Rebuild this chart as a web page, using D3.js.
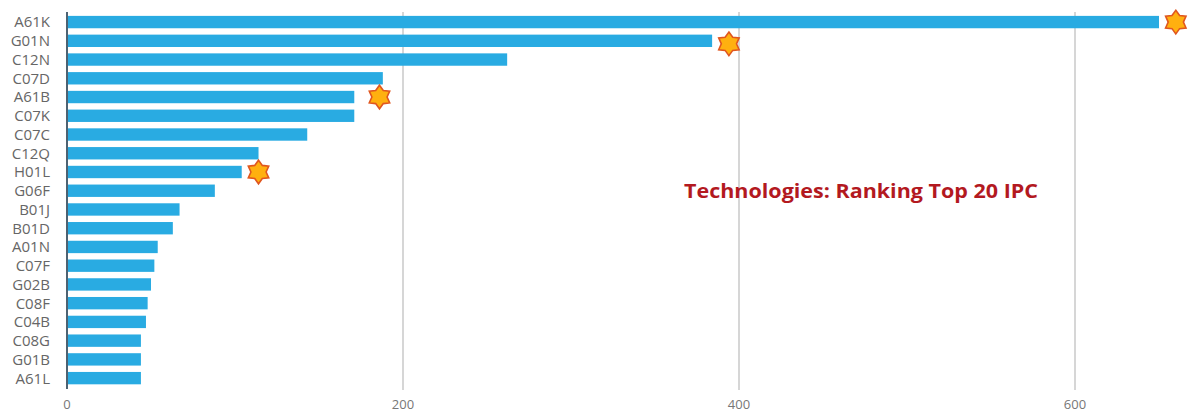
<!DOCTYPE html>
<html>
<head>
<meta charset="utf-8">
<script src="https://cdn.jsdelivr.net/npm/d3@7/dist/d3.min.js"></script>
<style>
  html, body { margin: 0; padding: 0; background: #fff; }
  svg { display: block; }
</style>
</head>
<body>
<svg id="chart" width="1195" height="412"></svg>
<script>
// IPC classes ranked by number of patents
const categories = ["A61K","G01N","C12N","C07D","A61B","C07K","C07C","C12Q","H01L","G06F",
                    "B01J","B01D","A01N","C07F","G02B","C08F","C04B","C08G","G01B","A61L"];
const counts = [650,384,262,188,171,171,143,114,104,88,67,63,54,52,50,48,47,44,44,44];
const xTicks = [0,200,400,600];

// Highlighted classes and the value each star sits at
const starCategories = ["A61K","G01N","A61B","H01L"];
const starValues = [660,394,186,114];

const titleText = "Technologies: Ranking Top 20 IPC";

const svg = d3.select("#chart");
const x = d3.scaleLinear().domain([0,600]).range([67,1075]);
const y = d3.scaleBand().domain(categories).range([12.7,387.5]).paddingInner(0.34).paddingOuter(0.17);

// Vertical grid
svg.append("g").selectAll("line")
  .data(xTicks.filter(d => d > 0))
  .join("line")
  .attr("x1", d => x(d)).attr("x2", d => x(d))
  .attr("y1", 12).attr("y2", 390)
  .attr("stroke", "#d6d6d6").attr("stroke-width", 2);

// Bars
svg.append("g").selectAll("rect")
  .data(categories)
  .join("rect")
  .attr("x", x(0))
  .attr("y", d => y(d))
  .attr("width", (d,i) => x(counts[i]) - x(0))
  .attr("height", y.bandwidth())
  .attr("fill", "#29abe2");

// Baseline
svg.append("line")
  .attr("x1", x(0)).attr("x2", x(0))
  .attr("y1", 12).attr("y2", 389)
  .attr("stroke", "#4d6272").attr("stroke-width", 2);

// Category labels
svg.append("g").selectAll("text")
  .data(categories)
  .join("text")
  .attr("x", 50)
  .attr("y", d => y(d) + y.bandwidth()/2)
  .attr("dy", "0.36em")
  .attr("text-anchor", "end")
  .attr("font-family", "'Open Sans', sans-serif")
  .attr("font-size", 15)
  .attr("fill", "#666")
  .text(d => d);

// Value axis labels
svg.append("g").selectAll("text")
  .data(xTicks)
  .join("text")
  .attr("x", d => x(d))
  .attr("y", 409)
  .attr("text-anchor", "middle")
  .attr("font-family", "'Open Sans', sans-serif")
  .attr("font-size", 13)
  .attr("fill", "#777")
  .text(d => d);

// Six-pointed star path, alternating outer and inner radius
const starPath = d3.lineRadial().curve(d3.curveLinearClosed)(
  d3.range(12).map(i => [i * Math.PI / 6, i % 2 ? 7.6 : 11.8])
);

svg.append("g").selectAll("path")
  .data(starCategories)
  .join("path")
  .attr("d", starPath)
  .attr("transform", (d,i) => {
    const cy = y(d) + y.bandwidth()/2 + (d === "G01N" ? 3 : 0);
    return `translate(${x(starValues[i])},${cy})`;
  })
  .attr("fill", "#ffb00f")
  .attr("stroke", "#e0561f")
  .attr("stroke-width", 1.6);

// Chart caption
svg.append("text")
  .attr("x", 684)
  .attr("y", 198)
  .attr("font-family", "'Open Sans', sans-serif")
  .attr("font-weight", 700)
  .attr("font-size", 19)
  .attr("textLength", 354)
  .attr("lengthAdjust", "spacingAndGlyphs")
  .attr("fill", "#b3191f")
  .text(titleText);
</script>
</body>
</html>
